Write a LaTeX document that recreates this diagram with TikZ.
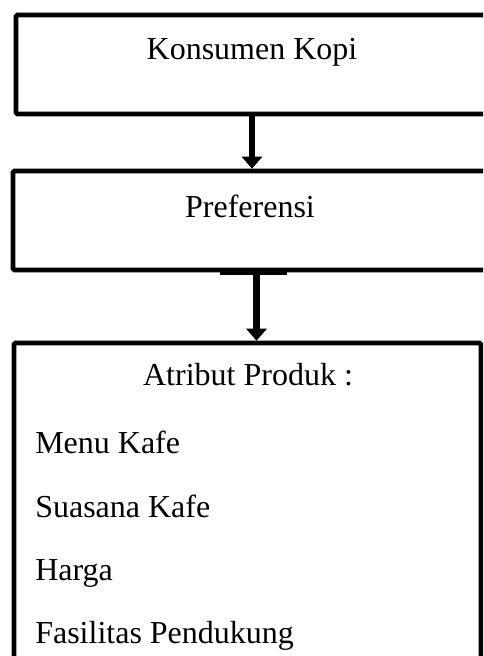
\documentclass[tikz,border=0pt]{standalone}
\usepackage{fontspec}
\setmainfont{Liberation Serif}
\usetikzlibrary{fit,arrows.meta}
\begin{document}
\begin{tikzpicture}[x=0.75pt,y=-0.75pt,
  box/.style={draw=black, line width=3.4pt, inner sep=0pt, rounded corners=1pt},
  lbl/.style={font=\fontsize{24}{28}\selectfont, inner sep=0pt, anchor=base},
  item/.style={lbl, anchor=base west},
  arr/.style={line width=5pt, -{Triangle[width=15pt,length=9pt]}}]
\clip (0,0) rectangle (483,656);
\fill[white] (0,0) rectangle (483,656);
% box corners
\coordinate (k1) at (16,15);
\coordinate (k2) at (500,114);
\coordinate (p1) at (13,171);
\coordinate (p2) at (500,270);
\coordinate (a1) at (14,343);
\coordinate (a2) at (481,675);
\node[box, fit=(k1)(k2)] (k) {};
\node[box, fit=(p1)(p2)] (p) {};
\node[box, fit=(a1)(a2)] (a) {};
% texts
\node[lbl] (kt) at (252,60) {Konsumen Kopi};
\node[lbl] (pt) at (250,217) {Preferensi};
\node[lbl] (at) at (248,385) {Atribut Produk :};
\node[item] (i1) at (35,453) {Menu Kafe};
\node[item] (i2) at (35,517) {Suasana Kafe};
\node[item] (i3) at (35,580) {Harga};
\node[item] (i4) at (35,643) {Fasilitas Pendukung};
% thicker segment under preferensi box
\draw[line width=5pt] (220,271.5) -- (287,271.5);
% arrows
\draw[arr] (kt |- k.south) -- (kt |- p.north);
\draw[arr] (p.south) -- (p.south |- a.north);
\end{tikzpicture}
\end{document}
